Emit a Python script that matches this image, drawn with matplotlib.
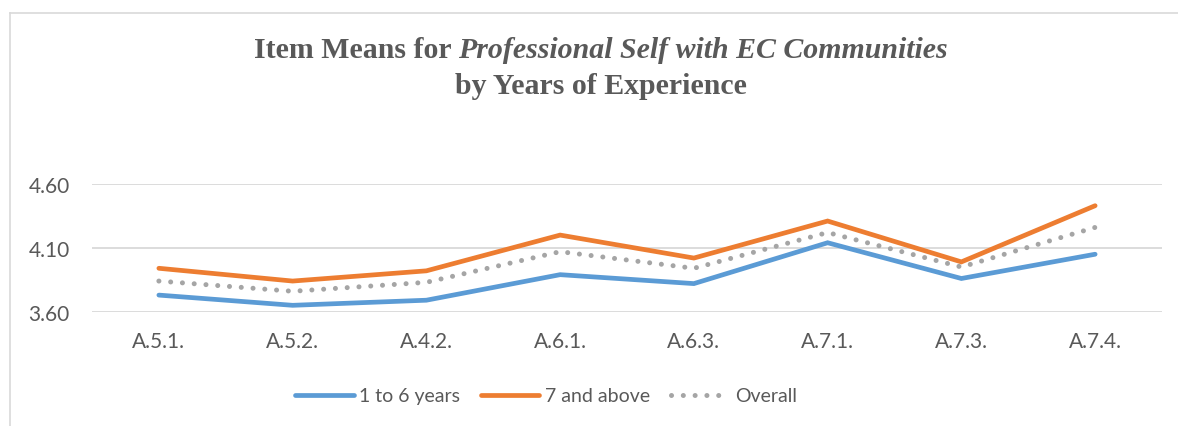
import numpy as np
import matplotlib.pyplot as plt
from matplotlib.lines import Line2D

# Item means
items = ['A.5.1.', 'A.5.2.', 'A.4.2.', 'A.6.1.', 'A.6.3.', 'A.7.1.', 'A.7.3.', 'A.7.4.']
yrs_1_6 = [3.73, 3.65, 3.69, 3.89, 3.82, 4.14, 3.86, 4.05]
yrs_7_up = [3.94, 3.84, 3.92, 4.20, 4.02, 4.31, 3.99, 4.43]
overall = [3.84, 3.76, 3.83, 4.07, 3.94, 4.22, 3.95, 4.26]
y_ticks = [3.60, 4.10, 4.60]

blue = '#5B9BD5'
orange = '#ED7D31'
gray = '#A5A5A5'
txt = '#595959'

plt.rcParams['font.family'] = ['Lato', 'DejaVu Sans']

W, H = 1178, 427
fig = plt.figure(figsize=(W / 100, H / 100), dpi=100)
ax = fig.add_axes([92 / W, 1 - 312.7 / H, (1162 - 92) / W, (312.7 - 185) / H])

x = np.arange(len(items))
ax.plot(x, yrs_1_6, color=blue, lw=3.4, solid_capstyle='round', solid_joinstyle='miter', label='1 to 6 years')
ax.plot(x, yrs_7_up, color=orange, lw=3.4, solid_capstyle='round', solid_joinstyle='miter', label='7 and above')
ax.plot(x, overall, color=gray, lw=3.6, linestyle=(0, (0.01, 2.35)), dash_capstyle='round', label='Overall')

ax.set_xlim(-0.5, len(items) - 0.5)
ax.set_ylim(3.60, 4.60)
ax.set_yticks(y_ticks)
ax.set_yticklabels([f'{v:.2f}' for v in y_ticks])
ax.set_xticks(x)
ax.set_xticklabels(items)
ax.tick_params(axis='both', length=0, labelsize=15, labelcolor=txt)
ax.tick_params(axis='y', pad=16)
ax.tick_params(axis='x', pad=14)
ax.grid(axis='y', color='#D9D9D9', lw=1.3)
ax.set_axisbelow(True)
for s in ax.spines.values():
    s.set_visible(False)

# chart border (only left and top edges are visible in the crop)
fig.add_artist(Line2D([10 / W, 10 / W], [0, 1 - 14 / H], transform=fig.transFigure, color='#D9D9D9', lw=1.2))
fig.add_artist(Line2D([10 / W, 1], [1 - 14 / H, 1 - 14 / H], transform=fig.transFigure, color='#D9D9D9', lw=1.2))

# title with an italic part in the first line
tfont = dict(family='Liberation Serif', weight='bold', size=21.5, color=txt)
renderer = fig.canvas.get_renderer()
cx = 0.51
y1 = 1 - 50 / H
parts = [('Item Means for ', 'normal'), ('Professional Self with EC Communities', 'italic')]
texts = []
for s, style in parts:
    t = fig.text(0, y1, s, style=style, ha='left', va='center', **tfont)
    texts.append(t)
widths = [t.get_window_extent(renderer).width for t in texts]
x0 = W * cx - sum(widths) / 2
for t, w in zip(texts, widths):
    t.set_x(x0 / W)
    x0 += w
fig.text(cx, 1 - 87 / H, 'by Years of Experience', ha='center', va='center', **tfont)

fig.legend(loc='center', bbox_to_anchor=(546 / W, 1 - 397 / H), ncol=3, frameon=False,
           fontsize=14, labelcolor=txt, handlelength=3.0, handletextpad=0.3, columnspacing=1.05)

plt.savefig('out.png', dpi=100)
